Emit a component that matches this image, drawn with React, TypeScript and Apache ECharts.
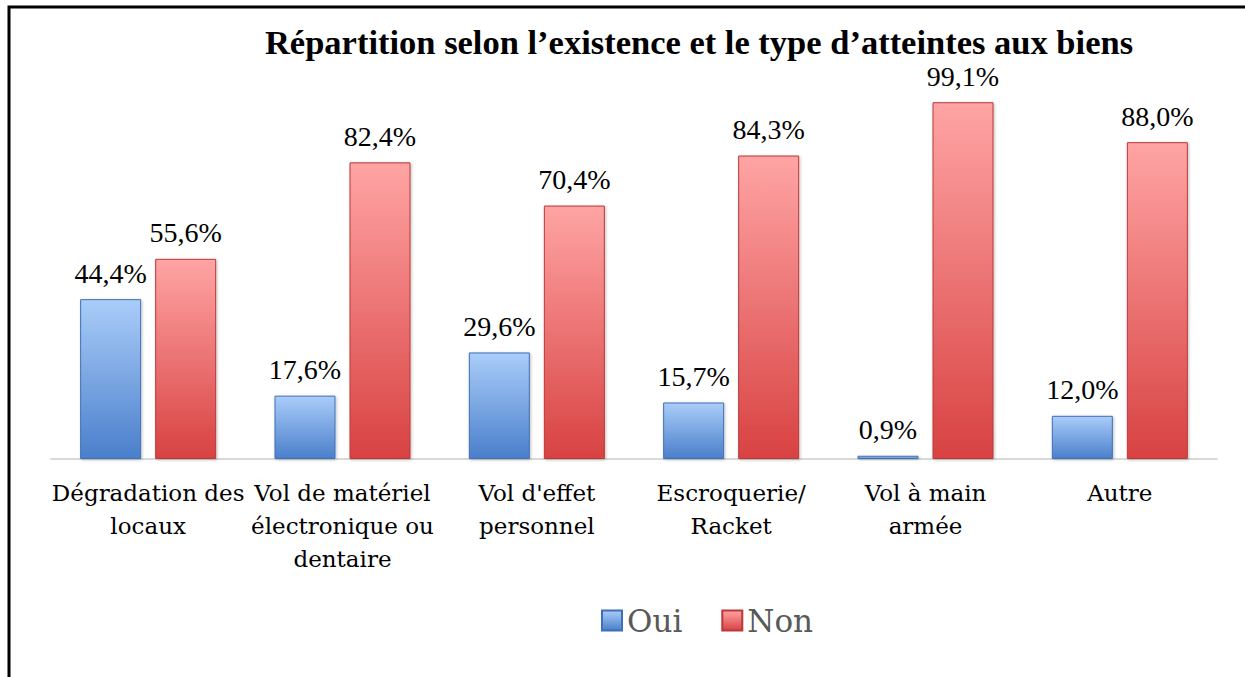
import React, { useEffect, useRef } from "react";
import * as echarts from "echarts";

const categories = [
  "Dégradation des\nlocaux",
  "Vol de matériel\nélectronique ou\ndentaire",
  "Vol d'effet\npersonnel",
  "Escroquerie/\nRacket",
  "Vol à main\narmée",
  "Autre",
];
const ouiValues = [44.4, 17.6, 29.6, 15.7, 0.9, 12.0];
const nonValues = [55.6, 82.4, 70.4, 84.3, 99.1, 88.0];
const seriesNames = ["Oui", "Non"];
const title = "Répartition selon l’existence et le type d’atteintes aux biens";

const SERIF = "Liberation Serif";
const WIDE = "DejaVu Serif";

const blueGrad = () =>
  new echarts.graphic.LinearGradient(0, 0, 0, 1, [
    { offset: 0, color: "#aacdf9" },
    { offset: 1, color: "#4a7fcb" },
  ]);
const redGrad = () =>
  new echarts.graphic.LinearGradient(0, 0, 0, 1, [
    { offset: 0, color: "#ffa4a4" },
    { offset: 1, color: "#d84242" },
  ]);

export default function App() {
  const ref = useRef<HTMLDivElement>(null);
  useEffect(() => {
    if (!ref.current) return;
    const chart = echarts.init(ref.current, undefined, { renderer: "svg" });
    const label = {
      show: true,
      position: "top" as const,
      distance: 12,
      fontFamily: SERIF,
      fontSize: 28,
      lineHeight: 28,
      color: "#000",
      formatter: (p: any) => p.value.toFixed(1).replace(".", ",") + "%",
    };
    chart.setOption({
      animation: false,
      backgroundColor: "#fff",
      title: {
        text: title,
        left: 694,
        top: 19,
        textAlign: "center",
        textStyle: { fontFamily: SERIF, fontSize: 34.5, lineHeight: 36, fontWeight: "bold", color: "#000" },
      },
      legend: {
        data: seriesNames,
        left: 596,
        top: 600,
        itemWidth: 20,
        itemHeight: 20,
        itemGap: 39,
        icon: "rect",
        textStyle: { fontFamily: WIDE, fontSize: 31, color: "#595959" },
      },
      grid: { left: 51, right: 1245 - 1217, top: 99, bottom: 677 - 459, containLabel: false },
      xAxis: {
        type: "category",
        data: categories,
        axisLine: { show: true, lineStyle: { color: "#d9d9d9", width: 2 } },
        axisTick: { show: false },
        axisLabel: {
          interval: 0,
          fontFamily: WIDE,
          fontSize: 23,
          color: "#000",
          lineHeight: 33,
          margin: 17,
        },
      },
      yAxis: {
        type: "value",
        min: 0,
        max: 100,
        show: false,
        splitLine: { show: false },
      },
      series: [
        {
          name: seriesNames[0],
          type: "bar",
          data: ouiValues,
          barWidth: 61,
          barGap: "23%",
          itemStyle: {
            color: blueGrad(),
            borderColor: "#3f6fb5",
            borderWidth: 1,
            shadowColor: "rgba(0,0,0,0.25)",
            shadowBlur: 3,
            shadowOffsetX: 1,
            shadowOffsetY: 1,
          },
          label,
        },
        {
          name: seriesNames[1],
          type: "bar",
          data: nonValues,
          barWidth: 61,
          itemStyle: {
            color: redGrad(),
            borderColor: "#bb3838",
            borderWidth: 1,
            shadowColor: "rgba(0,0,0,0.25)",
            shadowBlur: 3,
            shadowOffsetX: 1,
            shadowOffsetY: 1,
          },
          label,
        },
      ],
      graphic: [
        {
          type: "rect",
          shape: { x: 9, y: 7, width: 1400, height: 900 },
          style: { fill: "none", stroke: "#000", lineWidth: 3 },
          silent: true,
        },
      ],
    });
    return () => chart.dispose();
  }, []);
  return (
    <div
      ref={ref}
      style={{ position: "fixed", left: 0, top: 0, width: 1245, height: 677 }}
    />
  );
}
